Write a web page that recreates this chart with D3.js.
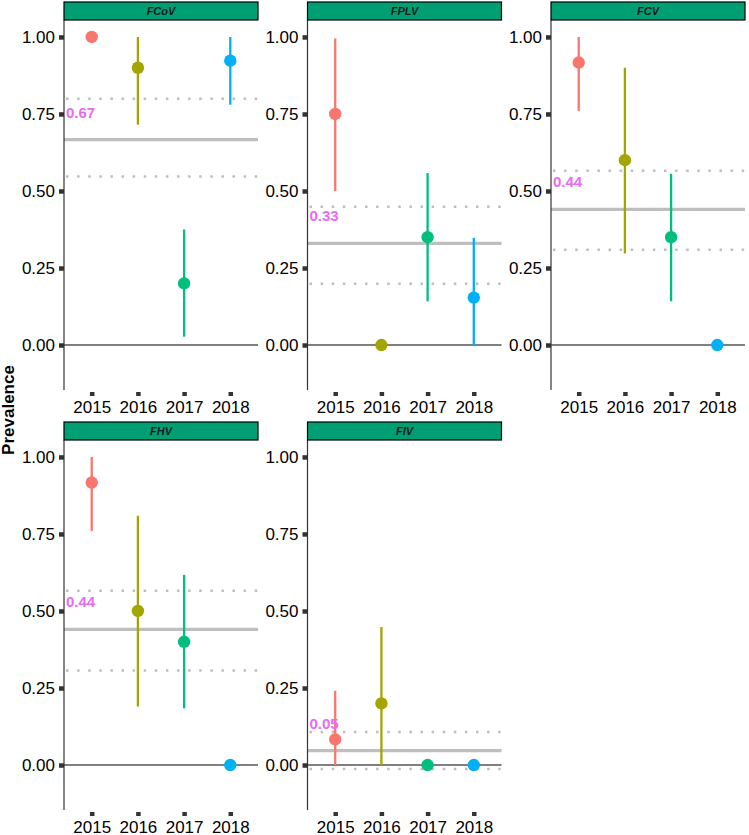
<!DOCTYPE html>
<html>
<head>
<meta charset="utf-8">
<script src="https://cdn.jsdelivr.net/npm/d3@7"></script>
<style>
  html, body { margin: 0; padding: 0; background: #fff; }
  svg { display: block; font-family: "Liberation Sans", Arial, sans-serif; }
</style>
</head>
<body>
<svg id="chart" width="749" height="835"></svg>
<script>
// ---------- data ----------
const years = ["2015", "2016", "2017", "2018"];
const viruses = ["FCoV", "FPLV", "FCV", "FHV", "FIV"];
const yearColors = ["#F8766D", "#A3A500", "#00BF7D", "#00B0F6"];
const yTicks = [0, 0.25, 0.5, 0.75, 1.0];

const prevFCoV = [1.00, 0.90, 0.20, 0.923];
const prevFPLV = [0.75, 0.00, 0.35, 0.154];
const prevFCV  = [0.917, 0.60, 0.35, 0.00];
const prevFHV  = [0.917, 0.50, 0.40, 0.00];
const prevFIV  = [0.083, 0.20, 0.00, 0.00];

const lowFCoV = [1.00, 0.715, 0.027, 0.78];
const lowFPLV = [0.50, 0.00, 0.142, 0.00];
const lowFCV  = [0.76, 0.297, 0.142, 0.00];
const lowFHV  = [0.76, 0.19, 0.184, 0.00];
const lowFIV  = [0.00, 0.00, 0.00, 0.00];

const upFCoV = [1.00, 1.00, 0.375, 1.00];
const upFPLV = [0.995, 0.00, 0.558, 0.348];
const upFCV  = [1.00, 0.90, 0.556, 0.00];
const upFHV  = [1.00, 0.809, 0.617, 0.00];
const upFIV  = [0.241, 0.448, 0.00, 0.00];

const overallMean  = [0.667, 0.33, 0.44, 0.44, 0.047];
const overallLower = [0.547, 0.199, 0.309, 0.307, -0.013];
const overallUpper = [0.799, 0.449, 0.566, 0.566, 0.107];

const prevalence = [prevFCoV, prevFPLV, prevFCV, prevFHV, prevFIV];
const lowers = [lowFCoV, lowFPLV, lowFCV, lowFHV, lowFIV];
const uppers = [upFCoV, upFPLV, upFCV, upFHV, upFIV];

// ---------- layout ----------
const svg = d3.select("#chart");
const left0 = 64, panelW = 194, colStep = 243.5;
const top0 = 2, stripH = 18, plotH = 370, rowStep = 420;
const nCols = 3;

const x = d3.scalePoint().domain(years).range([0, panelW]).padding(0.6);
const y = d3.scaleLinear().domain([-0.146, 1.055]).range([plotH, 0]);
const fmt = d3.format(".2f");
const grey = "#BEBEBE";

viruses.forEach((v, i) => {
  const col = i % nCols, row = Math.floor(i / nCols);
  const px = left0 + col * colStep;
  const stripY = top0 + row * rowStep;
  const g = svg.append("g").attr("transform", `translate(${px},${stripY + stripH})`);

  // strip
  svg.append("rect")
    .attr("x", px).attr("y", stripY).attr("width", panelW).attr("height", stripH)
    .attr("fill", "#009E73").attr("stroke", "#000").attr("stroke-width", 1.2);
  svg.append("text")
    .attr("x", px + panelW / 2).attr("y", stripY + stripH / 2 + 4)
    .attr("text-anchor", "middle")
    .attr("font-size", 11).attr("font-weight", "bold").attr("font-style", "italic")
    .attr("fill", "#1a1a1a")
    .text(v);

  // zero line
  g.append("line")
    .attr("x1", 0).attr("x2", panelW)
    .attr("y1", y(0)).attr("y2", y(0))
    .attr("stroke", "#000").attr("stroke-width", 1.1);

  // overall mean and CI lines
  g.append("line")
    .attr("x1", 0).attr("x2", panelW)
    .attr("y1", y(overallMean[i])).attr("y2", y(overallMean[i]))
    .attr("stroke", grey).attr("stroke-width", 3.2);
  [overallLower[i], overallUpper[i]].forEach(val => {
    g.append("line")
      .attr("x1", 2).attr("x2", panelW)
      .attr("y1", y(val)).attr("y2", y(val))
      .attr("stroke", grey).attr("stroke-width", 2.5)
      .attr("stroke-dasharray", "2.5 8.6");
  });

  // error bars
  years.forEach((yr, j) => {
    if (uppers[i][j] > lowers[i][j]) {
      g.append("line")
        .attr("x1", x(yr)).attr("x2", x(yr))
        .attr("y1", y(lowers[i][j])).attr("y2", y(uppers[i][j]))
        .attr("stroke", yearColors[j]).attr("stroke-width", 2.3);
    }
  });
  // points
  years.forEach((yr, j) => {
    g.append("circle")
      .attr("cx", x(yr)).attr("cy", y(prevalence[i][j]))
      .attr("r", 6.2).attr("fill", yearColors[j]);
  });

  // mean label
  g.append("text")
    .attr("x", 2).attr("y", y(overallMean[i]) - 22)
    .attr("font-size", 15).attr("font-weight", "bold")
    .attr("fill", "#E76BF3")
    .text(fmt(overallMean[i]));

  // y axis
  const ya = g.append("g").call(
    d3.axisLeft(y).tickValues(yTicks).tickFormat(fmt).tickSizeInner(5).tickSizeOuter(0).tickPadding(4)
  );
  ya.select(".domain").remove();
  ya.selectAll(".tick line").attr("stroke", "#333").attr("stroke-width", 4.5);
  ya.selectAll(".tick text").attr("font-size", 17).attr("fill", "#000")
    .attr("font-family", "'Liberation Sans', Arial, sans-serif");
  g.append("line")
    .attr("x1", 0).attr("x2", 0).attr("y1", 0).attr("y2", plotH)
    .attr("stroke", "#333").attr("stroke-width", 1.2);

  // x axis (ticks offset below panel)
  const xa = g.append("g").attr("transform", `translate(0,${plotH + 2})`).call(
    d3.axisBottom(x).tickSizeInner(4).tickSizeOuter(0).tickPadding(5)
  );
  xa.select(".domain").remove();
  xa.selectAll(".tick line").attr("stroke", "#333").attr("stroke-width", 4.5);
  xa.selectAll(".tick text").attr("font-size", 17).attr("fill", "#000")
    .attr("font-family", "'Liberation Sans', Arial, sans-serif");
});

// y axis title
svg.append("text")
  .attr("transform", "translate(14,410) rotate(-90)")
  .attr("text-anchor", "middle")
  .attr("font-size", 17).attr("font-weight", "bold").attr("fill", "#000")
  .text("Prevalence");
</script>
</body>
</html>
